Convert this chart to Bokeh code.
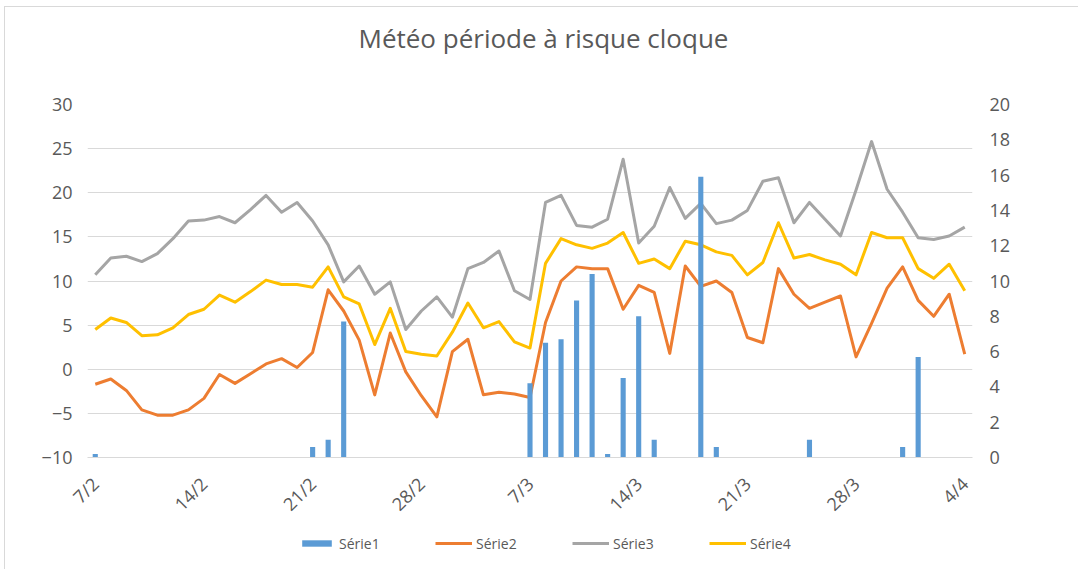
import math
from bokeh.plotting import figure
from bokeh.models import (Range1d, LinearAxis, FixedTicker, Legend, LegendItem,
                          ColumnDataSource, Title)
from bokeh.layouts import column
from bokeh.embed import file_html
from bokeh.resources import INLINE

dates = ["7/2", "8/2", "9/2", "10/2", "11/2", "12/2", "13/2", "14/2", "15/2", "16/2",
         "17/2", "18/2", "19/2", "20/2", "21/2", "22/2", "23/2", "24/2", "25/2", "26/2",
         "27/2", "28/2", "1/3", "2/3", "3/3", "4/3", "5/3", "6/3", "7/3", "8/3",
         "9/3", "10/3", "11/3", "12/3", "13/3", "14/3", "15/3", "16/3", "17/3", "18/3",
         "19/3", "20/3", "21/3", "22/3", "23/3", "24/3", "25/3", "26/3", "27/3", "28/3",
         "29/3", "30/3", "31/3", "1/4", "2/4", "3/4", "4/4"]

serie1 = [0.2, 0, 0, 0, 0, 0, 0, 0, 0, 0,
          0, 0, 0, 0, 0.6, 1.0, 7.7, 0, 0, 0,
          0, 0, 0, 0, 0, 0, 0, 0, 4.2, 6.5,
          6.7, 8.9, 10.4, 0.2, 4.5, 8.0, 1.0, 0, 0, 15.9,
          0.6, 0, 0, 0, 0, 0, 1.0, 0, 0, 0,
          0, 0, 0.6, 5.7, 0, 0, 0]

serie2 = [-1.7, -1.1, -2.4, -4.6, -5.2, -5.2, -4.6, -3.3, -0.6, -1.6,
          -0.5, 0.6, 1.2, 0.2, 1.9, 9.0, 6.6, 3.3, -2.9, 4.1,
          -0.3, -3.0, -5.4, 2.0, 3.4, -2.9, -2.6, -2.8, -3.2, 5.3,
          10.0, 11.6, 11.4, 11.4, 6.8, 9.5, 8.7, 1.8, 11.7, 9.4,
          10.0, 8.7, 3.6, 3.0, 11.4, 8.5, 6.9, 7.6, 8.3, 1.4,
          5.2, 9.2, 11.6, 7.8, 6.0, 8.5, 1.7]

serie3 = [10.7, 12.6, 12.8, 12.2, 13.1, 14.8, 16.8, 16.9, 17.3, 16.6,
          18.1, 19.7, 17.8, 18.9, 16.8, 14.1, 9.9, 11.7, 8.5, 9.9,
          4.5, 6.6, 8.2, 5.9, 11.4, 12.1, 13.4, 8.9, 7.9, 18.9,
          19.7, 16.3, 16.1, 17.0, 23.8, 14.3, 16.2, 20.6, 17.1, 18.8,
          16.5, 16.9, 18.0, 21.3, 21.7, 16.6, 18.9, 17.0, 15.1, 20.3,
          25.8, 20.4, 17.8, 14.9, 14.7, 15.1, 16.1]

serie4 = [4.5, 5.8, 5.3, 3.8, 3.9, 4.7, 6.2, 6.8, 8.4, 7.6,
          8.8, 10.1, 9.6, 9.6, 9.3, 11.6, 8.2, 7.4, 2.8, 6.9,
          2.0, 1.7, 1.5, 4.2, 7.5, 4.7, 5.4, 3.1, 2.4, 12.0,
          14.8, 14.1, 13.7, 14.3, 15.5, 12.0, 12.5, 11.4, 14.5, 14.1,
          13.3, 12.9, 10.7, 12.1, 16.6, 12.6, 13.0, 12.4, 11.9, 10.7,
          15.5, 14.9, 14.9, 11.4, 10.3, 11.9, 8.9]

series_names = ["Série1", "Série2", "Série3", "Série4"]
series_colors = ["#5B9BD5", "#ED7D31", "#A5A5A5", "#FFC000"]
title_text = "Météo période à risque cloque"
left_ticks = [-10, -5, 0, 5, 10, 15, 20, 25, 30]
right_ticks = [0, 2, 4, 6, 8, 10, 12, 14, 16, 18, 20]
x_tick_idx = [0, 7, 14, 21, 28, 35, 42, 49, 56]

FONT = "Open Sans"
TXT = "#595959"
GRID = "#d9d9d9"

x = list(range(len(dates)))
src = ColumnDataSource(dict(x=x, s1=serie1, s2=serie2, s3=serie3, s4=serie4))

# ---------------- main chart ----------------
p = figure(width=1078, height=530, output_backend="svg", toolbar_location=None,
           x_range=Range1d(-0.5, len(dates) - 0.5), y_range=Range1d(-10, 30),
           min_border_left=87, min_border_right=106, min_border_top=104,
           min_border_bottom=73)
p.extra_y_ranges = {"right": Range1d(0, 20)}
p.outline_line_color = None
p.background_fill_color = "white"
p.border_fill_alpha = 0
p.styles = {
    "background-image": "linear-gradient(#d9d9d9, #d9d9d9), linear-gradient(#d9d9d9, #d9d9d9)",
    "background-size": "100% 1px, 1px 100%",
    "background-position": "4px 6px, 4px 6px",
    "background-repeat": "no-repeat",
}

p.title.text = title_text
p.title.text_font = FONT
p.title.text_font_size = "26px"
p.title.text_font_style = "normal"
p.title.text_color = TXT
p.title.align = "left"
p.title.offset = 271
p.title.standoff = 10
# invisible spacer between the title and the plot area
p.add_layout(Title(text=" ", text_font_size="1px", standoff=41), "above")

r2 = p.line("x", "s2", source=src, line_color=series_colors[1], line_width=3, line_join="round")
r3 = p.line("x", "s3", source=src, line_color=series_colors[2], line_width=3, line_join="round")
r4 = p.line("x", "s4", source=src, line_color=series_colors[3], line_width=3, line_join="round")
r1 = p.vbar(x="x", top="s1", bottom=0, width=0.33, source=src, y_range_name="right",
            fill_color=series_colors[0], line_color=None)

xa = p.below[0]
xa.ticker = FixedTicker(ticks=x_tick_idx)
xa.major_label_overrides = {i: dates[i] for i in x_tick_idx}
xa.major_label_orientation = math.pi / 4
xa.axis_line_color = GRID
xa.major_tick_line_color = None
xa.minor_tick_line_color = None
xa.major_tick_out = 0
xa.major_label_standoff = 23
xa.major_label_text_font = FONT
xa.major_label_text_font_size = "18px"
xa.major_label_text_color = TXT

ya = p.left[0]
ya.ticker = FixedTicker(ticks=left_ticks)
ya.axis_line_color = None
ya.major_tick_line_color = None
ya.minor_tick_line_color = None
ya.major_tick_out = 0
ya.major_label_standoff = 15
ya.major_label_text_font = FONT
ya.major_label_text_font_size = "18px"
ya.major_label_text_color = TXT

ra = LinearAxis(y_range_name="right", ticker=FixedTicker(ticks=right_ticks))
ra.axis_line_color = None
ra.major_tick_line_color = None
ra.minor_tick_line_color = None
ra.major_tick_out = 0
ra.major_label_standoff = 17
ra.major_label_text_font = FONT
ra.major_label_text_font_size = "18px"
ra.major_label_text_color = TXT
p.add_layout(ra, "right")

p.xgrid.visible = False
p.ygrid.grid_line_color = GRID
p.ygrid.grid_line_width = 1

# ---------------- legend strip ----------------
lg = figure(width=1078, height=39, output_backend="svg", toolbar_location=None,
            x_range=Range1d(-0.5, len(dates) - 0.5), y_range=Range1d(1000, 1001),
            x_axis_location=None, y_axis_location=None,
            min_border_left=0, min_border_right=0, min_border_top=0,
            min_border_bottom=0)
lg.outline_line_color = None
lg.grid.visible = False
lg.border_fill_alpha = 0
lg.background_fill_alpha = 0
lg.styles = {
    "background-image": "linear-gradient(#d9d9d9, #d9d9d9)",
    "background-size": "1px 100%",
    "background-position": "4px 0px",
    "background-repeat": "no-repeat",
}
# same series, drawn outside this strip's visible range: used only as legend keys
k1 = lg.vbar(x="x", top="s1", bottom=0, width=0.33, source=src,
             fill_color=series_colors[0], line_color=None)
k2 = lg.line("x", "s2", source=src, line_color=series_colors[1], line_width=3)
k3 = lg.line("x", "s3", source=src, line_color=series_colors[2], line_width=3)
k4 = lg.line("x", "s4", source=src, line_color=series_colors[3], line_width=3)

legend = Legend(items=[LegendItem(label=series_names[0], renderers=[k1]),
                       LegendItem(label=series_names[1], renderers=[k2]),
                       LegendItem(label=series_names[2], renderers=[k3]),
                       LegendItem(label=series_names[3], renderers=[k4])],
                orientation="horizontal", location=(211, 16), margin=0,
                padding=0, spacing=6, glyph_width=37, glyph_height=8,
                label_standoff=4, label_width=90, label_height=20,
                label_text_font=FONT, label_text_font_size="14px",
                label_text_color=TXT, border_line_color=None,
                background_fill_alpha=0)
lg.add_layout(legend, "center")

layout = column(p, lg, spacing=0)
open("out.html", "w").write(file_html(layout, INLINE))
